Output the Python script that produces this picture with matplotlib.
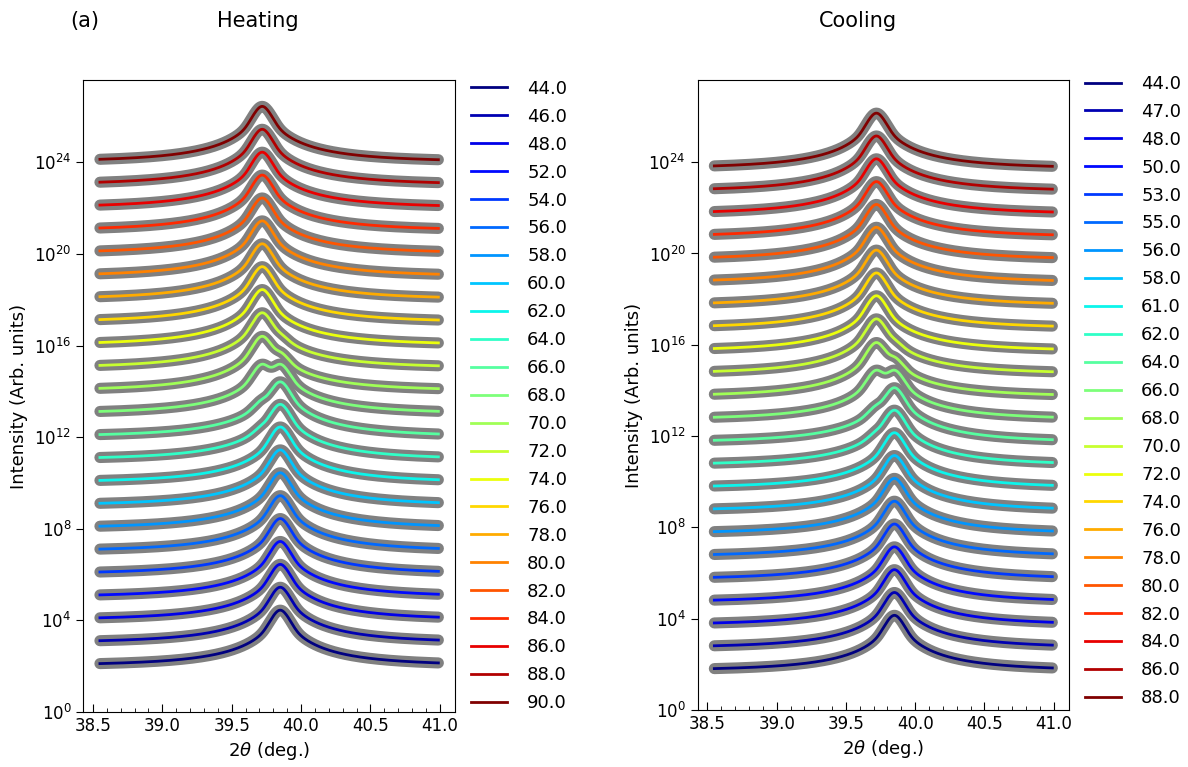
import numpy as np
import matplotlib
matplotlib.use("Agg")
import matplotlib.pyplot as plt

# temperatures in the legends
temps_heat = [44.0, 46.0, 48.0, 52.0, 54.0, 56.0, 58.0, 60.0, 62.0, 64.0, 66.0, 68.0,
              70.0, 72.0, 74.0, 76.0, 78.0, 80.0, 82.0, 84.0, 86.0, 88.0, 90.0]
temps_cool = [44.0, 47.0, 48.0, 50.0, 53.0, 55.0, 56.0, 58.0, 61.0, 62.0, 64.0, 66.0,
              68.0, 70.0, 72.0, 74.0, 76.0, 78.0, 80.0, 82.0, 84.0, 86.0, 88.0]

# fraction of the high temperature phase (peak at 39.72)
frac_heat = [0, 0, 0, 0, 0, 0, 0, 0, 0, 0.03, 0.07, 0.5,
             0.9, 0.97, 1, 1, 1, 1, 1, 1, 1, 1, 1]
frac_cool = [0, 0, 0, 0, 0, 0, 0, 0, 0, 0.03, 0.07, 0.5,
             0.88, 0.97, 1, 1, 1, 1, 1, 1, 1, 1, 1]

# log10 of the baseline of the lowest curve, each next curve is x10 higher
base_heat = 2.0
base_cool = 1.7

# pseudo-Voigt peak: positions (deg.), height over baseline, hwhm, lorentz part
pos_low = 39.85
pos_high = 39.72
amp = 280.0
hwhm = 0.055
eta = 0.6

tt = np.linspace(38.55, 40.99, 600)


def profile(x, x0):
    d = (x - x0) / hwhm
    return amp * (eta / (1 + d**2) + (1 - eta) * np.exp(-np.log(2) * d**2))


def curve(f, i, base):
    y = 1 + (1 - f) * profile(tt, pos_low) + f * profile(tt, pos_high)
    return y * 10**(base + i)


fig = plt.figure(figsize=(11.88, 7.67), dpi=100)
ax1 = fig.add_axes([0.0701, 0.0717, 0.3129, 0.824])
ax2 = fig.add_axes([0.5873, 0.0743, 0.3125, 0.8214])

for ax, temps, frac, base, top in [(ax1, temps_heat, frac_heat, base_heat, 1.026),
                                   (ax2, temps_cool, frac_cool, base_cool, 1.034)]:
    colors = plt.cm.jet(np.linspace(0, 1, len(temps)))
    for i, t in enumerate(temps):
        y = curve(frac[i], i, base)
        ax.plot(tt, y, color="grey", lw=8, solid_capstyle="round", zorder=1)
        ax.plot(tt, y, color=colors[i], lw=2, label="%.1f" % t, zorder=2)
    ax.set_yscale("log")
    ax.set_xlim(38.43, 41.11)
    ax.set_ylim(1, 10**27.6)
    ax.set_yticks([10.0**k for k in range(0, 25, 4)])
    ax.minorticks_off()
    ax.set_xticks([38.5, 39.0, 39.5, 40.0, 40.5, 41.0])
    ax.set_xticks(np.arange(38.5, 41.05, 0.1), minor=True)
    ax.tick_params(axis="x", which="both", direction="in", labelsize=12)
    ax.tick_params(axis="x", which="major", length=6)
    ax.tick_params(axis="x", which="minor", length=3)
    ax.tick_params(axis="y", labelsize=12, length=5)
    ax.set_xlabel(r"2$\theta$ (deg.)", fontsize=13)
    ax.set_ylabel("Intensity (Arb. units)", fontsize=13)
    ax.legend(loc="upper left", bbox_to_anchor=(1.0, top), frameon=False,
              fontsize=13, labelspacing=0.55, handletextpad=1.1)

fig.text(0.059, 0.973, "(a)", fontsize=15, va="center")
fig.text(0.217, 0.973, "Heating", fontsize=15, ha="center", va="center")
fig.text(0.722, 0.973, "Cooling", fontsize=15, ha="center", va="center")

fig.savefig("out.png", dpi=100)
